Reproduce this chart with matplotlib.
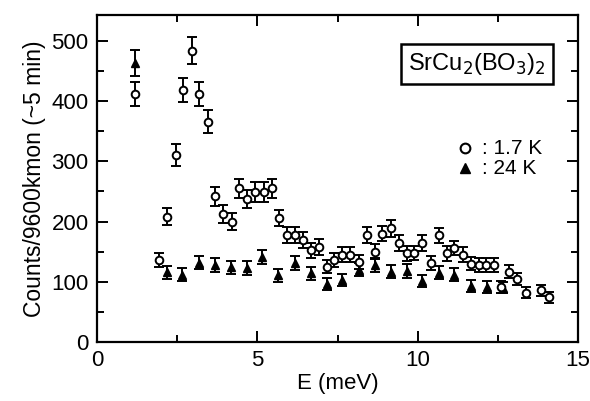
import matplotlib
matplotlib.use("Agg")
import matplotlib.pyplot as plt
from matplotlib.ticker import MultipleLocator

plt.rcParams['font.family'] = ['Liberation Sans', 'DejaVu Sans']

# 1.7 K data (open circles)
e_low = [1.2, 1.92, 2.19, 2.47, 2.68, 2.96, 3.19, 3.45, 3.68, 3.94, 4.2, 4.43,
         4.67, 4.94, 5.2, 5.46, 5.68, 5.93, 6.17, 6.42, 6.67, 6.92, 7.18, 7.38,
         7.65, 7.9, 8.17, 8.43, 8.67, 8.9, 9.16, 9.42, 9.66, 9.88, 10.15, 10.4,
         10.66, 10.9, 11.13, 11.4, 11.66, 11.9, 12.13, 12.38, 12.6, 12.86, 13.1,
         13.38, 13.85, 14.1]
c_low = [412, 136, 208, 311, 419, 484, 412, 366, 242, 213, 200, 255,
         238, 249, 249, 255, 206, 178, 178, 169, 152, 158, 125, 136,
         145, 145, 133, 178, 150, 180, 189, 164, 147, 148, 164, 131,
         177, 147, 156, 145, 130, 128, 128, 128, 92, 117, 105,
         82, 86, 74]
err_low = [20, 12, 14, 18, 20, 22, 20, 19, 16, 15, 14, 16,
           15, 16, 16, 16, 14, 13, 13, 13, 12, 13, 11, 12,
           12, 12, 12, 13, 12, 13, 14, 13, 12, 12, 13, 11,
           13, 12, 12, 12, 11, 11, 11, 11, 10, 11, 10,
           9, 9, 9]

# 24 K data (filled triangles)
e_high = [1.2, 2.17, 2.66, 3.17, 3.69, 4.18, 4.67, 5.15, 5.65, 6.16, 6.67, 7.18,
          7.65, 8.17, 8.67, 9.16, 9.66, 10.15, 10.66, 11.13, 11.66, 12.16, 12.65]
c_high = [463, 116, 112, 132, 128, 124, 123, 141, 111, 131, 114, 97,
          103, 120, 128, 117, 118, 101, 115, 112, 93, 92, 90]
err_high = [22, 11, 11, 11, 11, 11, 11, 12, 11, 11, 11, 10,
            10, 11, 11, 11, 11, 10, 11, 11, 10, 10, 9]

fig = plt.figure(figsize=(5.9, 4.01), dpi=100)
ax = fig.add_axes([0.1644, 0.1471, 0.8153, 0.8155])

ax.errorbar(e_high, c_high, yerr=err_high, fmt='^', ms=5.5, mfc='black', mec='black',
            ecolor='black', elinewidth=1.4, capsize=3.4, capthick=1.4)
ax.errorbar(e_low, c_low, yerr=err_low, fmt='o', ms=5.5, mfc='white', mec='black',
            mew=1.4, ecolor='black', elinewidth=1.4, capsize=3.4, capthick=1.4)

ax.set_xlim(0, 15)
ax.set_ylim(0, 543)
ax.xaxis.set_major_locator(MultipleLocator(5))
ax.xaxis.set_minor_locator(MultipleLocator(2.5))
ax.yaxis.set_major_locator(MultipleLocator(100))
ax.yaxis.set_minor_locator(MultipleLocator(50))
ax.tick_params(which='both', direction='in', top=True, right=True, width=1.4,
               labelsize=16, pad=6)
ax.tick_params(which='major', length=8)
ax.tick_params(which='minor', length=5)
for s in ax.spines.values():
    s.set_linewidth(1.6)

ax.set_xlabel('E (meV)', fontsize=16, labelpad=1)
ax.set_ylabel('Counts/9600kmon (~5 min)', fontsize=16.5, labelpad=4)

ax.text(0.79, 0.85, r'SrCu$_2$(BO$_3$)$_2$', transform=ax.transAxes, fontsize=17,
        ha='center', va='center',
        bbox=dict(boxstyle='square,pad=0.3', fc='white', ec='black', lw=1.8))

ax.plot([0.765], [0.593], 'o', ms=7, mfc='white', mec='black', mew=1.5,
        transform=ax.transAxes)
ax.plot([0.765], [0.532], '^', ms=7.5, color='black', transform=ax.transAxes)
ax.text(0.8, 0.593, ': 1.7 K', transform=ax.transAxes, fontsize=15,
        va='center', ha='left')
ax.text(0.8, 0.532, ': 24 K', transform=ax.transAxes, fontsize=15,
        va='center', ha='left')

fig.savefig('out.png', dpi=100)
